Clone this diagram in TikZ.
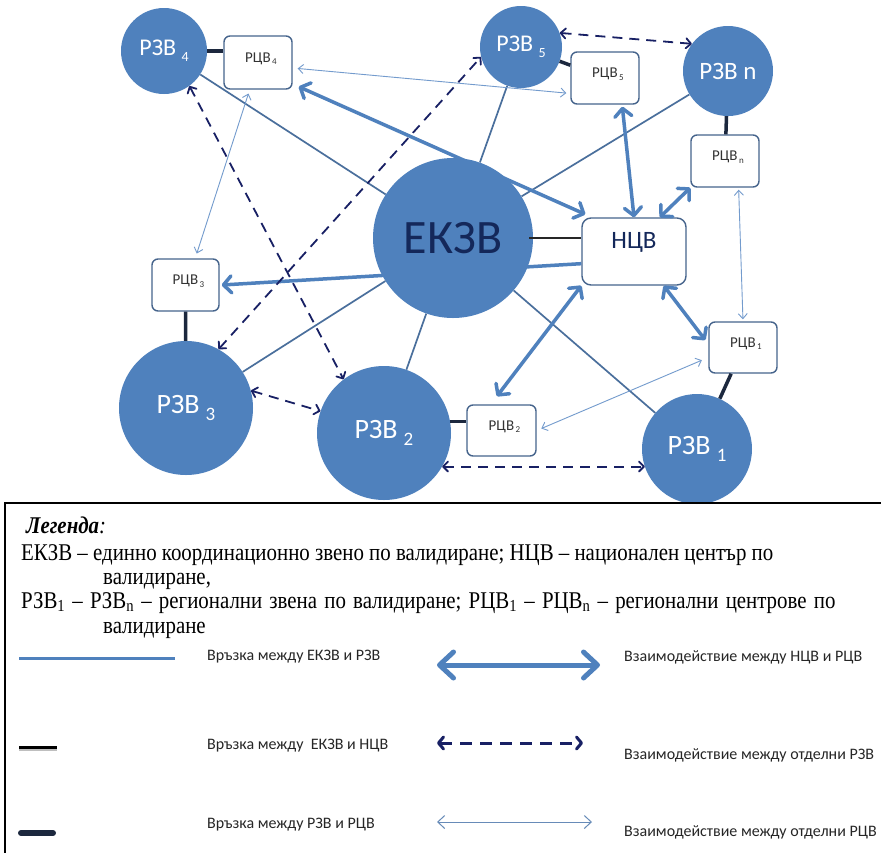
\documentclass[tikz,border=0pt]{standalone}
\usepackage{fontspec}
\setmainfont{Carlito}
\newfontfamily\legfont[FakeStretch=0.87]{Liberation Serif}
\usetikzlibrary{arrows.meta,calc}
\definecolor{cblue}{RGB}{79,129,189}
\definecolor{lnblue}{RGB}{74,111,156}
\definecolor{boxline}{RGB}{70,100,140}
\definecolor{navy}{RGB}{24,32,100}
\definecolor{thinblue}{RGB}{115,155,205}
\definecolor{dkcon}{RGB}{28,40,62}
\definecolor{ektext}{RGB}{20,40,90}
\newcommand{\rzvlab}[4]{{\fontsize{#1}{#1}\selectfont РЗВ\kern0.22em\raisebox{-#4pt}{\fontsize{#2}{#2}\selectfont #3}}}
\newcommand{\rcvlab}[1]{{\fontsize{15}{15}\selectfont РЦВ\kern1.5pt\raisebox{-2.5pt}{\fontsize{9}{9}\selectfont #1}}}
\tikzset{
  thkhead/.tip={Straight Barb[length=8pt,width=17pt,round]},
  dshhead/.tip={Straight Barb[length=5pt,width=10pt,round]},
  thnhead/.tip={Straight Barb[length=5pt,width=9pt]},
  rzv/.style={circle, fill=cblue, draw=none, inner sep=0pt, minimum size=#1, text=white},
  rcv/.style={rectangle, rounded corners=6pt, draw=boxline, line width=1.4pt, fill=white, inner sep=0pt},
  ekline/.style={draw=lnblue, line width=1.7pt},
  blackline/.style={draw=black!85, line width=2pt},
  dkline/.style={draw=dkcon, line width=3.5pt},
  thk/.style={draw=cblue, line width=3.5pt},
  dsh/.style={draw=navy, line width=1.8pt, dash pattern=on 10pt off 7pt, dshhead-dshhead},
  thn/.style={draw=thinblue, line width=0.9pt, thnhead-thnhead},
  lab/.style={inner sep=0pt, text=ektext},
  legtxt/.style={anchor=west, inner sep=0pt, font=\fontsize{16}{16}\selectfont, text=black!85},
  legserif/.style={anchor=base west, inner sep=0pt, font=\legfont\fontsize{24}{24}\selectfont}
}
\begin{document}
\begin{tikzpicture}[x=1pt,y=-1pt]
\useasboundingbox (0,0) rectangle (881,852);
\fill[white] (0,0) rectangle (881,852);
% nodes
\node[rzv=86pt] (rzv4) at (164,51) {\rzvlab{24}{14}{4}{6}};
\node[rcv, minimum width=68pt, minimum height=53pt] (rcv4) at (258,62.5) {};
\node[rzv=82pt] (rzv5) at (521,47) {\rzvlab{24}{14}{5}{6}};
\node[rcv, minimum width=68pt, minimum height=52pt] (rcv5) at (605,78) {};
\node[rzv=90pt] (rzvn) at (728,71) {\fontsize{25}{25}\selectfont РЗВ n};
\node[rcv, minimum width=68pt, minimum height=52pt] (rcvn) at (725,161) {};
\node[rzv=160pt] (ekzv) at (453,238) {};
\node[rcv, rounded corners=9pt, minimum width=104pt, minimum height=67pt] (ncv) at (634,251.5) {};
\node[rcv, minimum width=67pt, minimum height=52pt] (rcv3) at (185.5,285) {};
\node[rzv=134pt] (rzv3) at (186,408) {\rzvlab{28}{19}{3}{7}};
\node[rzv=134pt] (rzv2) at (384,433) {\rzvlab{28}{19}{2}{7}};
\node[rcv, minimum width=69pt, minimum height=51pt] (rcv2) at (501.5,430.5) {};
\node[rzv=110pt] (rzv1) at (697,449) {\rzvlab{28}{19}{1}{7}};
\node[rcv, minimum width=68pt, minimum height=51pt] (rcv1) at (743,347.5) {};
% labels
\node[lab, font=\fontsize{48}{48}\selectfont] (ekzvlab) at (ekzv.center) {ЕКЗВ};
\node[lab, font=\fontsize{25}{25}\selectfont] (ncvlab) at ([yshift=9pt]ncv.center) {НЦВ};
\node[lab, text=black!80] (rcv4lab) at ([xshift=3pt,yshift=4pt]rcv4.center) {\rcvlab{4}};
\node[lab, text=black!80] (rcv5lab) at ([xshift=3pt,yshift=4pt]rcv5.center) {\rcvlab{5}};
\node[lab, text=black!80] (rcvnlab) at ([xshift=3pt,yshift=4pt]rcvn.center) {\rcvlab{n}};
\node[lab, text=black!80] (rcv3lab) at ([xshift=3pt,yshift=4pt]rcv3.center) {\rcvlab{3}};
\node[lab, text=black!80] (rcv2lab) at ([xshift=3pt,yshift=4pt]rcv2.center) {\rcvlab{2}};
\node[lab, text=black!80] (rcv1lab) at ([xshift=3pt,yshift=4pt]rcv1.center) {\rcvlab{1}};
% EKZV - RZV
\foreach \n in {rzv4,rzv5,rzvn,rzv3,rzv2,rzv1} \draw[ekline] (ekzv) -- (\n);
% EKZV - NCV
\draw[blackline] ([xshift=-4pt]ekzv.east) -- (ekzv.east -| ncv.west);
% RZV - RCV
\draw[dkline] (rzv4.east) -- (rzv4.east -| rcv4.west);
\draw[dkline] (rzv5) -- (rcv5);
\draw[dkline] (rzvn) -- (rcvn);
\draw[dkline] (rcv3) -- (rzv3);
\draw[dkline] (rzv2.10) -- (rzv2.10 -| rcv2.west);
\draw[dkline] (rzv1) -- (rcv1);
% NCV - RCV thick arrows
\draw[thk, thkhead-thkhead] ([xshift=6pt,yshift=3pt]rcv4.south east) -- ([xshift=4pt,yshift=3pt]ncv.north west);
\draw[thk, -thkhead] (ncv.193) -- ([xshift=2pt]rcv3.east);
\draw[thk, thkhead-thkhead] ([yshift=-2pt]rcv5.-57) -- (ncv.north);
\draw[thk, thkhead-thkhead] (ncv.53) -- (rcvn.south west);
\draw[thk, thkhead-thkhead] (ncv.-49) -- ([xshift=-3pt]rcv1.168);
\draw[thk, thkhead-thkhead] (ncv.south west) -- ([yshift=8pt]rcv2.100);
% RZV - RZV dashed
\draw[dsh] (rzv5.20) -- (rzvn.143);
\draw[dsh] (rzv3.61) -- (rzv5.194);
\draw[dsh] (rzv4.-54) -- (rzv2.127);
\draw[dsh] (rzv3.15) -- (rzv2.161);
\draw[dsh] (rzv2.-30) -- (rzv2.-30 -| rzv1.199);
% RCV - RCV thin
\draw[thn, shorten <=5pt, shorten >=4pt] (rcv4.-9) -- (rcv5.204);
\draw[thn, shorten <=4pt, shorten >=5pt] (rcv4.-107) -- (rcv3.70);
\draw[thn, shorten <=2pt, shorten >=2pt] (rcvn.-63) -- (rcv1.north);
\draw[thn, shorten <=5pt, shorten >=7pt] (rcv2.east) -- (rcv1.196);
% legend frame
\draw[line width=2pt] (5,860) -- (5,503) -- (890,503);
\node[legserif] (lg0) at (26,533) {\textbf{\textit{Легенда}}\textit{:}};
\node[legserif] (lg1) at (21,560) {ЕКЗВ – единно координационно звено по валидиране; НЦВ – национален център по};
\node[legserif] (lg2) at (103,584) {валидиране,};
\node[legserif] (lg3) at (21,608) {\spaceskip=0.3em РЗВ\textsubscript{1} – РЗВ\textsubscript{n} – регионални звена по валидиране; РЦВ\textsubscript{1} – РЦВ\textsubscript{n} – регионални центрове по};
\node[legserif] (lg4) at (103,633) {валидиране};
% legend rows
\coordinate (l1a) at (19,658); \coordinate (l1b) at (175,658);
\draw[draw=cblue, line width=3pt] (l1a) -- (l1b);
\node[legtxt] (t1) at (207,657) {Връзка между ЕКЗВ и РЗВ};
\coordinate (l2a) at (19,747); \coordinate (l2b) at (57,747);
\draw[draw=black!25, line width=3pt] ([yshift=-2pt]l2a) -- ([yshift=-2pt]l2b);
\draw[draw=black, line width=3pt] (l2a) -- (l2b);
\node[legtxt] (t2) at (207,746) {Връзка между\ \ ЕКЗВ и НЦВ};
\coordinate (l3a) at (19,833); \coordinate (l3b) at (55,833);
\draw[draw=dkcon, line width=6pt, line cap=round] ([xshift=2pt]l3a) -- ([xshift=-2pt]l3b);
\node[legtxt] (t3) at (207,825) {Връзка между РЗВ и РЦВ};
\coordinate (r1a) at (437,665); \coordinate (r1b) at (600,665);
\draw[draw=cblue, line width=5pt, {Straight Barb[length=14pt,width=26pt,round]}-{Straight Barb[length=14pt,width=26pt,round]}] (r1a) -- (r1b);
\node[legtxt] (u1) at (624,657) {Взаимодействие между НЦВ и РЦВ};
\coordinate (r2a) at (437,743); \coordinate (r2b) at (583,743);
\draw[draw=navy, line width=3pt, dash pattern=on 12pt off 8pt, {Straight Barb[length=5pt,width=12pt,round]}-{Straight Barb[length=5pt,width=12pt,round]}] (r2a) -- (r2b);
\node[legtxt] (u2) at (624,755) {Взаимодействие между отделни РЗВ};
\coordinate (r3a) at (437,822); \coordinate (r3b) at (592,822);
\draw[draw=thinblue!90!black, line width=1pt, {Straight Barb[length=7pt,width=13pt]}-{Straight Barb[length=7pt,width=13pt]}] (r3a) -- (r3b);
\node[legtxt] (u3) at (624,832) {Взаимодействие между отделни РЦВ};
\end{tikzpicture}
\end{document}
